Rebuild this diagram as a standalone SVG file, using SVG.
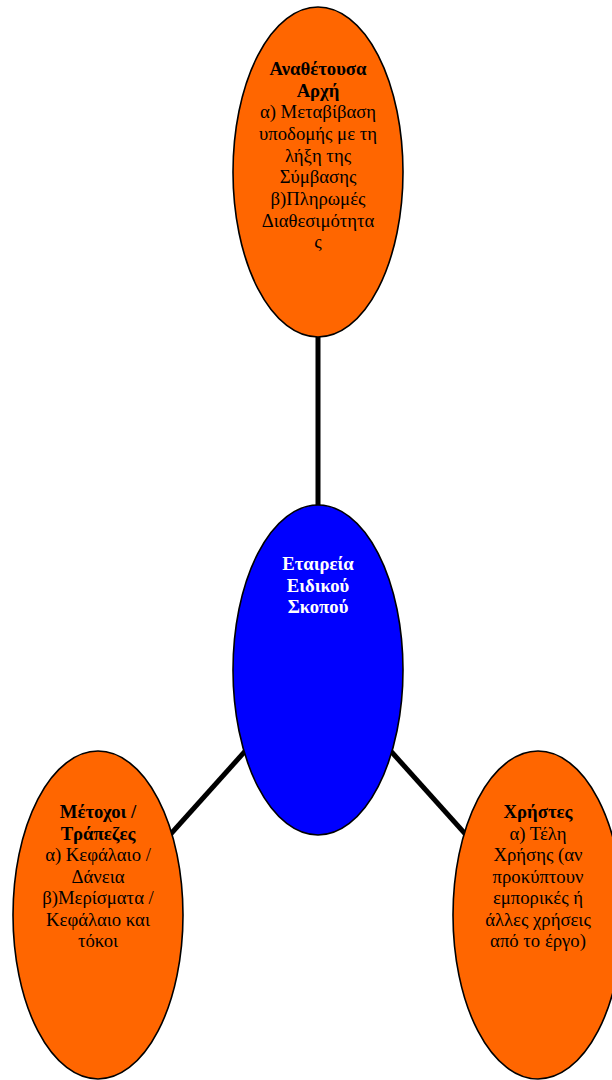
<svg xmlns="http://www.w3.org/2000/svg" width="612" height="1080" viewBox="0 0 612 1080">
  <style>
    .node { stroke: #000; stroke-width: 1.6; }
    .orange { fill: #FF6600; }
    .blue { fill: #0000FF; }
    .link { stroke: #000; stroke-width: 5; stroke-linecap: butt; }
    text { font-family: "Liberation Serif", "Times New Roman", serif; font-size: 18.7px; text-anchor: middle; fill: #000; }
    .b { font-weight: bold; }
    .white { fill: #fff; }
  </style>
  <rect width="612" height="1080" fill="#fff"/>

  <!-- connectors run centre to centre, beneath the ellipses -->
  <g id="connectors">
    <line class="link" x1="318" y1="172" x2="318" y2="670"/>
    <line class="link" x1="318" y1="670" x2="98" y2="915"/>
    <line class="link" x1="318" y1="670" x2="538" y2="915"/>
  </g>

  <g id="authority">
    <ellipse class="node orange" cx="318" cy="172" rx="85" ry="165"/>
    <text x="318" y="75" class="b">Αναθέτουσα</text>
    <text x="318" y="97" class="b">Αρχή</text>
    <text x="318" y="118">α) Μεταβίβαση</text>
    <text x="318" y="140">υποδομής με τη</text>
    <text x="318" y="162">λήξη της</text>
    <text x="318" y="183">Σύμβασης</text>
    <text x="318" y="205">β)Πληρωμές</text>
    <text x="318" y="227">Διαθεσιμότητα</text>
    <text x="318" y="248">ς</text>
  </g>

  <g id="spv">
    <ellipse class="node blue" cx="318" cy="670" rx="85" ry="165"/>
    <text x="318" y="570" class="b white">Εταιρεία</text>
    <text x="318" y="592" class="b white">Ειδικού</text>
    <text x="318" y="613" class="b white">Σκοπού</text>
  </g>

  <g id="shareholders">
    <ellipse class="node orange" cx="98" cy="915" rx="85" ry="164"/>
    <text x="98" y="818" class="b">Μέτοχοι /</text>
    <text x="98" y="840" class="b">Τράπεζες</text>
    <text x="98" y="861">α) Κεφάλαιο /</text>
    <text x="98" y="883">Δάνεια</text>
    <text x="98" y="904">β)Μερίσματα /</text>
    <text x="98" y="926">Κεφάλαιο και</text>
    <text x="98" y="947">τόκοι</text>
  </g>

  <g id="users">
    <ellipse class="node orange" cx="538" cy="915" rx="85" ry="164"/>
    <text x="538" y="818" class="b">Χρήστες</text>
    <text x="538" y="840">α) Τέλη</text>
    <text x="538" y="861">Χρήσης (αν</text>
    <text x="538" y="883">προκύπτουν</text>
    <text x="538" y="904">εμπορικές ή</text>
    <text x="538" y="926">άλλες χρήσεις</text>
    <text x="538" y="947">από το έργο)</text>
  </g>
</svg>
